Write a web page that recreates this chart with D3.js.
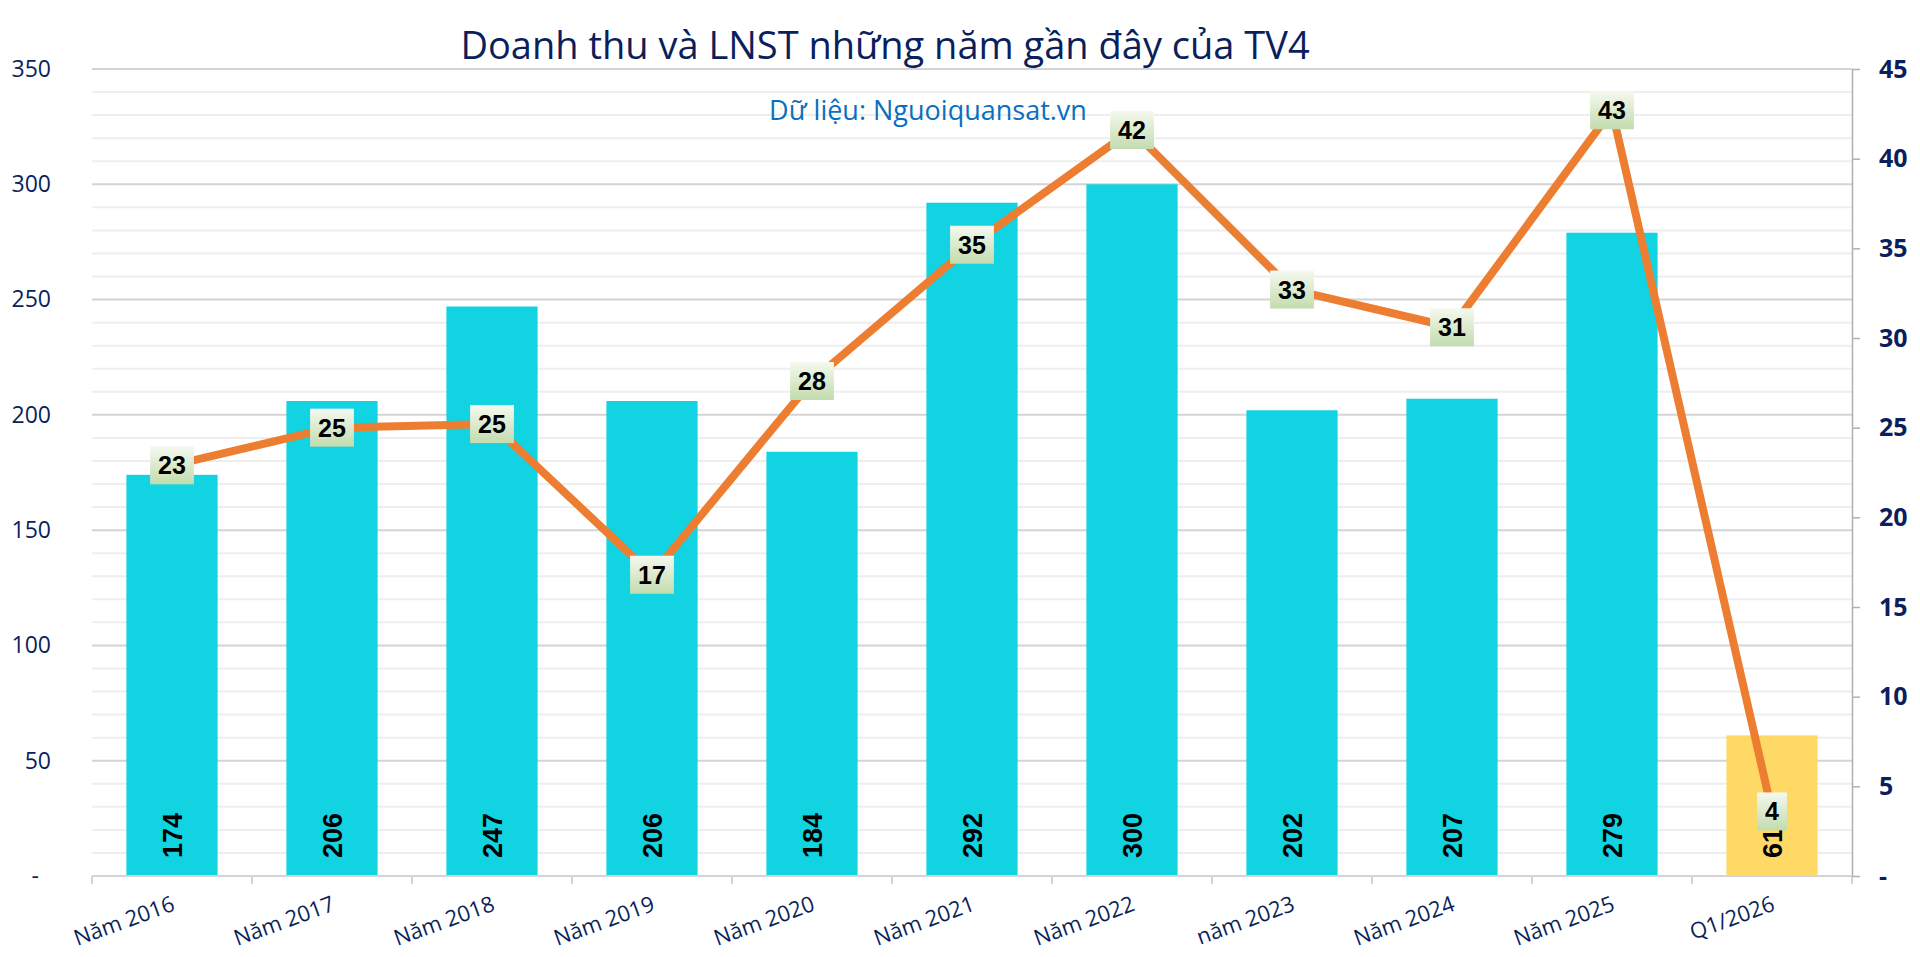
<!DOCTYPE html>
<html>
<head>
<meta charset="utf-8">
<script src="https://cdn.jsdelivr.net/npm/d3@7"></script>
<style>
  html, body { margin: 0; padding: 0; background: #fff; }
  svg { display: block; }
</style>
</head>
<body>
<div id="chart"></div>
<script>
// data
var categories = ['Năm 2016', 'Năm 2017', 'Năm 2018', 'Năm 2019', 'Năm 2020', 'Năm 2021', 'Năm 2022', 'năm 2023', 'Năm 2024', 'Năm 2025', 'Q1/2026']
var revenue = [174, 206, 247, 206, 184, 292, 300, 202, 207, 279, 61]
var profit = [22.9, 25.0, 25.2, 16.8, 27.6, 35.2, 41.6, 32.7, 30.6, 42.7, 3.6]
var leftTicks = [0, 50, 100, 150, 200, 250, 300, 350]
var rightTicks = [0, 5, 10, 15, 20, 25, 30, 35, 40, 45]
var title = 'Doanh thu và LNST những năm gần đây của TV4'
var subtitle = 'Dữ liệu: Nguoiquansat.vn'

var width = 1920, height = 957
// plot area (note: "top" is taken by window.top)
var plotLeft = 92, plotRight = 1852, plotTop = 69, plotBottom = 876
var navy = '#0b1f5c'

var svg = d3.select('#chart').append('svg')
    .attr('width', width)
    .attr('height', height)

var defs = svg.append('defs')
var grad = defs.append('linearGradient')
    .attr('id', 'boxGrad')
    .attr('x1', 0).attr('y1', 0).attr('x2', 0).attr('y2', 1)
grad.append('stop').attr('offset', '0%').attr('stop-color', '#f5f9ef')
grad.append('stop').attr('offset', '100%').attr('stop-color', '#c2dcae')

// scales
var x = d3.scaleBand()
    .domain(categories)
    .range([plotLeft, plotRight])
    .padding(0)
var yL = d3.scaleLinear().domain([0, 350]).range([plotBottom, plotTop])
var yR = d3.scaleLinear().domain([0, 45]).range([plotBottom, plotTop])
var cx = d => x(d) + x.bandwidth() / 2
var barW = x.bandwidth() * 0.57

// gridlines, minor every 10, major every 50
var minor = d3.range(10, 351, 10).filter(v => v % 50 !== 0)
svg.append('g').selectAll('line')
    .data(minor)
    .enter().append('line')
    .attr('x1', plotLeft).attr('x2', plotRight)
    .attr('y1', d => yL(d)).attr('y2', d => yL(d))
    .attr('stroke', '#eeeeee')
    .attr('stroke-width', 2)
svg.append('g').selectAll('line')
    .data(leftTicks)
    .enter().append('line')
    .attr('x1', plotLeft).attr('x2', plotRight)
    .attr('y1', d => yL(d)).attr('y2', d => yL(d))
    .attr('stroke', '#d4d4d4')
    .attr('stroke-width', 2)

// x axis ticks at category boundaries
var bounds = categories.map(c => x(c)).concat([plotRight])
svg.append('g').selectAll('line')
    .data(bounds)
    .enter().append('line')
    .attr('x1', d => d).attr('x2', d => d)
    .attr('y1', plotBottom).attr('y2', plotBottom + 8)
    .attr('stroke', '#d4d4d4')
    .attr('stroke-width', 2)

// left axis
var yAxisL = d3.axisLeft(yL)
    .tickValues(leftTicks)
    .tickSize(0)
    .tickPadding(41)
    .tickFormat(d => d === 0 ? '-' : d)
var gL = svg.append('g')
    .attr('transform', 'translate(' + plotLeft + ',0)')
    .call(yAxisL)
gL.select('.domain').remove()
gL.selectAll('text')
    .attr('font-family', 'Open Sans')
    .attr('font-size', 23)
    .attr('fill', navy)
    .attr('dx', d => d === 0 ? -12 : 0)

// right axis
var yAxisR = d3.axisRight(yR)
    .tickValues(rightTicks)
    .tickSize(8)
    .tickSizeOuter(0)
    .tickPadding(19)
    .tickFormat(d => d === 0 ? '-' : d)
var gR = svg.append('g')
    .attr('transform', 'translate(' + plotRight + ',0)')
    .call(yAxisR)
gR.select('.domain').attr('stroke', '#b0b0b0').attr('stroke-width', 1.5)
gR.selectAll('.tick line').attr('stroke', '#b0b0b0').attr('stroke-width', 1.5)
gR.selectAll('text')
    .attr('font-family', 'Open Sans')
    .attr('font-weight', 'bold')
    .attr('font-size', 25)
    .attr('fill', navy)

// bars
svg.append('g').selectAll('rect')
    .data(revenue)
    .enter().append('rect')
    .attr('x', (d, i) => cx(categories[i]) - barW / 2)
    .attr('y', d => yL(d))
    .attr('width', barW)
    .attr('height', d => yL(0) - yL(d))
    .attr('fill', (d, i) => i === revenue.length - 1 ? '#ffd966' : '#11d3e1')

// bar value labels, vertical near the base
svg.append('g').selectAll('text')
    .data(revenue)
    .enter().append('text')
    .attr('transform', (d, i) => 'translate(' + (cx(categories[i]) + 10) + ',' + (plotBottom - 18) + ') rotate(-90)')
    .attr('font-family', 'Liberation Sans')
    .attr('font-weight', 'bold')
    .attr('font-size', 27)
    .attr('fill', '#000')
    .text(d => d)

// x axis line on top of bars
svg.append('line')
    .attr('x1', plotLeft).attr('x2', plotRight)
    .attr('y1', plotBottom).attr('y2', plotBottom)
    .attr('stroke', '#d4d4d4')
    .attr('stroke-width', 2)

// category labels
svg.append('g').selectAll('text')
    .data(categories)
    .enter().append('text')
    .attr('transform', d => 'translate(' + (cx(d) + 4) + ',' + 910 + ') rotate(-20)')
    .attr('text-anchor', 'end')
    .attr('font-family', 'Open Sans')
    .attr('font-size', 22)
    .attr('fill', navy)
    .text(d => d)

// profit line
var profitLine = d3.line()
    .x((d, i) => cx(categories[i]))
    .y(d => yR(d))
svg.append('path')
    .attr('d', profitLine(profit))
    .attr('fill', 'none')
    .attr('stroke', '#ed7d31')
    .attr('stroke-width', 8)
    .attr('stroke-linejoin', 'round')

// profit labels in green boxes
var fmt = d3.format('.0f')
var lab = svg.append('g').selectAll('g')
    .data(profit)
    .enter().append('g')
    .attr('transform', (d, i) => 'translate(' + cx(categories[i]) + ',' + yR(d) + ')')
lab.append('rect')
    .attr('fill', 'url(#boxGrad)')
var labText = lab.append('text')
    .attr('text-anchor', 'middle')
    .attr('dy', '0.36em')
    .attr('font-family', 'Liberation Sans')
    .attr('font-weight', 'bold')
    .attr('font-size', 25)
    .attr('fill', '#000')
    .text(d => fmt(d))
labText.each(function(d) {
    var w = this.getComputedTextLength() + 16
    d3.select(this.parentNode).select('rect')
        .attr('x', -w / 2)
        .attr('y', -19)
        .attr('width', w)
        .attr('height', 38)
})

// title and source
svg.append('text')
    .attr('x', 885)
    .attr('y', 59)
    .attr('text-anchor', 'middle')
    .attr('font-family', 'Open Sans')
    .attr('font-size', 38)
    .attr('fill', navy)
    .text(title)
svg.append('text')
    .attr('x', 928)
    .attr('y', 120)
    .attr('text-anchor', 'middle')
    .attr('font-family', 'Open Sans')
    .attr('font-size', 27)
    .attr('fill', '#0a6ec0')
    .text(subtitle)
</script>
</body>
</html>
